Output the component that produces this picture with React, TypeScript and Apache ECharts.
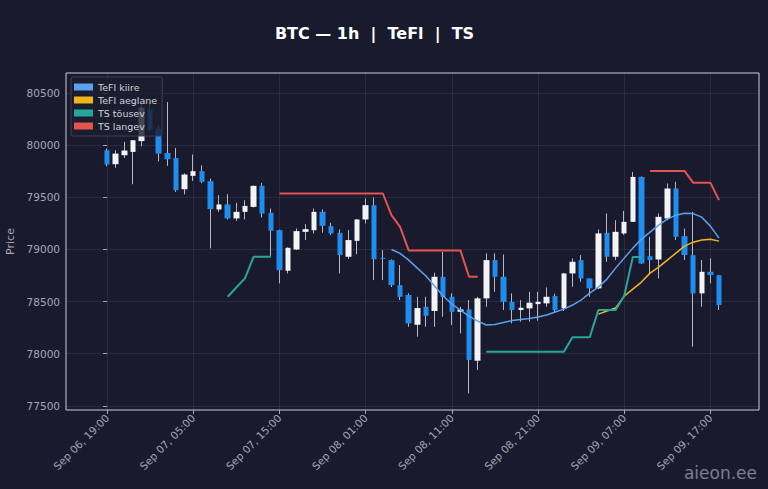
import * as echarts from "echarts";
import { useEffect, useRef } from "react";

// hourly candles, Sep 06 19:00 .. Sep 09 18:00
const opens = [
  79952, 79818, 79904, 79936, 80040, 80345, 80160, 79926, 79878, 79578,
  79706, 79751, 79655, 79384, 79432, 79298, 79361, 79409, 79610, 79351,
  79185, 78796, 79000, 79169, 79185, 79361, 79224, 79160, 78930, 79083,
  79288, 79425, 78920, 78898, 78658, 78563, 78278, 78450, 78410, 78738,
  78546, 78402, 78425, 77933, 78531, 78898, 78738, 78498, 78419, 78435,
  78476, 78483, 78553, 78435, 78770, 78898, 78722, 78627, 79160, 78930,
  79154, 79265, 79696, 78936, 78904, 79297, 79585, 79128, 78946, 78579,
  78786, 78754,
];
const closes = [
  79815, 79920, 79949, 80048, 80360, 80150, 79920, 79866, 79569, 79719,
  79751, 79648, 79387, 79432, 79298, 79361, 79418, 79610, 79345, 79179,
  78802, 79016, 79176, 79195, 79361, 79227, 79154, 78946, 79090, 79288,
  79425, 78907, 78910, 78658, 78546, 78291, 78438, 78364, 78738, 78546,
  78402, 78425, 77940, 78531, 78898, 78738, 78498, 78419, 78441, 78489,
  78498, 78546, 78419, 78770, 78882, 78722, 78627, 79154, 78930, 79169,
  79265, 79696, 78866, 78898, 79313, 79585, 79121, 78946, 78579, 78786,
  78754, 78467,
];
const lows = [
  79799, 79783, 79878, 79626, 79990, 80130, 79846, 79802, 79553, 79528,
  79658, 79636, 79010, 79361, 79288, 79275, 79288, 79403, 79307, 78930,
  78675, 78770, 78995, 79090, 79154, 79160, 79140, 78770, 78910, 78955,
  79250, 78706, 78706, 78640, 78515, 78259, 78163, 78259, 78259, 78355,
  78275, 78195, 77620, 77844, 78450, 78594, 78419, 78291, 78307, 78307,
  78316, 78450, 78400, 78410, 78642, 78690, 78546, 78620, 78882, 78898,
  79140, 79265, 78860, 78770, 78722, 79280, 79090, 78900, 78067, 78450,
  78675, 78419,
];
const highs = [
  79968, 79952, 80032, 80050, 80390, 80400, 80190, 80415, 79974, 79730,
  79911, 79808, 79681, 79521, 79530, 79447, 79473, 79615, 79639, 79393,
  79190, 79020, 79201, 79243, 79393, 79384, 79256, 79192, 79185, 79290,
  79489, 79499, 78994, 78905, 78850, 78579, 78546, 78546, 78777, 78978,
  78579, 78450, 78515, 78546, 78962, 78962, 78952, 78579, 78515, 78594,
  78594, 78636, 78575, 78775, 78914, 78946, 78722, 79192, 79345, 79281,
  79370, 79744, 79700, 79121, 79345, 79633, 79649, 79200, 79361, 78898,
  78914, 78754,
];

// indicator lines (null = not drawn)
const _ = null;
const tefiFast = [
  _, _, _, _, _, _, _, _, _, _, _, _, _, _, _, _, _, _, _, _,
  _, _, _, _, _, _, _, _, _, _, _, _, _, 79000, 78962, 78898, 78821, 78745, 78649, 78553,
  78477, 78419, 78361, 78313, 78275, 78280, 78299, 78318, 78328, 78337, 78352, 78371, 78400, 78428,
  78467, 78515, 78582, 78639, 78716, 78821, 78917, 79013, 79100, 79167, 79233, 79291, 79329, 79348,
  79344, 79310, 79224, 79109,
];
const tefiSlow = [
  _, _, _, _, _, _, _, _, _, _, _, _, _, _, _, _, _, _, _, _,
  _, _, _, _, _, _, _, _, _, _, _, _, _, _, _, _, _, _, _, _,
  _, _, _, _, _, _, _, _, _, _, _, _, _, _, _, _, _, 78380, 78409, 78438,
  78553, 78620, 78687, 78773, 78831, 78898, 78965, 79032, 79070, 79090, 79099, 79080,
];
const tsUp = [
  _, _, _, _, _, _, _, _, _, _, _, _, _, _, 78546, 78635, 78723, 78930, 78930, 78930,
  _, _, _, _, _, _, _, _, _, _, _, _, _, _, _, _, _, _, _, _,
  _, _, _, _, 78019, 78019, 78019, 78019, 78019, 78019, 78019, 78019, 78019, 78019, 78157, 78157, 78157, 78419, 78419, 78419,
  78553, 78927, 78927, _, _, _, _, _, _, _, _, _,
];
const tsDown = [
  _, _, _, _, _, _, _, _, _, _, _, _, _, _, _, _, _, _, _, _,
  79537, 79537, 79537, 79537, 79537, 79537, 79537, 79537, 79537, 79537, 79537, 79537, 79537, 79329, 79217, 78991, 78991, 78991, 78991, 78991,
  78991, 78991, 78738, 78738, _, _, _, _, _, _, _, _, _, _, _, _, _, _, _, _,
  _, _, _, 79754, 79754, 79754, 79754, 79754, 79641, 79641, 79641, 79473,
];

const xTickIdx = [0, 10, 20, 30, 40, 50, 60, 70];
const xTickLabels = [
  "Sep 06, 19:00",
  "Sep 07, 05:00",
  "Sep 07, 15:00",
  "Sep 08, 01:00",
  "Sep 08, 11:00",
  "Sep 08, 21:00",
  "Sep 09, 07:00",
  "Sep 09, 17:00",
];
const yTicks = [77500, 78000, 78500, 79000, 79500, 80000, 80500];

const BG = "#1a1a2e";
const FONT = "DejaVu Sans";
const UP = "#f4f4f6";
const DOWN = "#1f8ded";
const WICK = "#b4b8c6";
const LABEL = "#a3a7b7";

const toPairs = (arr: (number | null)[]) =>
  arr.map((v, i) => [i, v == null ? "-" : v]);

const BtcChart = () => {
  const chartRef = useRef<HTMLDivElement>(null);

  useEffect(() => {
    if (!chartRef.current) {
      return;
    }
    const chart = echarts.init(chartRef.current, null, { renderer: "svg" });

    const wickData = opens.map((_o, i) => [i, lows[i], highs[i], lows[i], highs[i]]);
    const bodyData = opens.map((o, i) => [
      i,
      o,
      closes[i],
      Math.min(o, closes[i]),
      Math.max(o, closes[i]),
    ]);

    const lineSeries = (name: string, arr: (number | null)[], color: string, width: number) => ({
      name,
      type: "line",
      data: toPairs(arr),
      showSymbol: false,
      symbol: "none",
      connectNulls: false,
      color,
      lineStyle: { color, width },
      z: 5,
    });

    chart.setOption({
      animation: false,
      backgroundColor: BG,
      textStyle: { fontFamily: FONT },
      grid: {
        left: 66,
        right: 9,
        top: 73,
        bottom: 79,
        containLabel: false,
        outerBoundsMode: "none",
        show: true,
        borderColor: "#c9ccd6",
        borderWidth: 1,
      },
      graphic: [
        {
          type: "text",
          x: 374.5,
          y: 33,
          style: {
            text: "BTC — 1h  |  TeFl  |  TS",
            fill: "#ffffff",
            font: `bold 16px "${FONT}"`,
            align: "center",
            verticalAlign: "middle",
          },
        },
        {
          type: "text",
          right: 11,
          top: 464,
          z: 100,
          style: {
            text: "aieon.ee",
            fill: "rgba(190,195,210,0.6)",
            font: `17px "${FONT}"`,
          },
        },
      ],
      legend: {
        data: ["TeFl kiire", "TeFl aeglane", "TS tõusev", "TS langev"],
        orient: "vertical",
        left: 71,
        top: 77,
        icon: "rect",
        itemWidth: 19,
        itemHeight: 7,
        itemGap: 3,
        padding: [5, 5, 5, 3],
        backgroundColor: "rgba(28,30,48,0.82)",
        borderColor: "#3c4058",
        borderWidth: 1,
        borderRadius: 2,
        textStyle: { color: "#d0d2dc", fontSize: 9.5, fontFamily: FONT },
        z: 20,
      },
      xAxis: {
        type: "value",
        min: -4.76,
        max: 75.64,
        axisLine: { show: false },
        axisTick: {
          customValues: xTickIdx,
          length: 4,
          lineStyle: { color: LABEL },
        },
        axisLabel: {
          customValues: xTickIdx,
          formatter: (v: number) => xTickLabels[xTickIdx.indexOf(v)] ?? "",
          rotate: 45,
          margin: 6,
          color: LABEL,
          fontSize: 10.5,
          fontFamily: FONT,
        },
        splitLine: {
          show: true,
          lineStyle: { color: "rgba(255,255,255,0.07)", width: 1 },
        },
      },
      yAxis: {
        type: "value",
        min: 77460,
        max: 80693,
        name: "Price",
        nameLocation: "middle",
        nameRotate: 90,
        nameGap: 47,
        nameTextStyle: { color: LABEL, fontSize: 11, fontFamily: FONT },
        axisLine: { show: false },
        axisTick: {
          customValues: yTicks,
          length: 4,
          lineStyle: { color: LABEL },
        },
        axisLabel: {
          customValues: yTicks,
          formatter: (v: number) => String(v),
          margin: 6,
          color: LABEL,
          fontSize: 10.5,
          fontFamily: FONT,
        },
        splitLine: {
          show: true,
          lineStyle: { color: "rgba(255,255,255,0.07)", width: 1 },
        },
      },
      series: [
        {
          name: "wicks",
          type: "candlestick",
          data: wickData,
          encode: { x: 0, y: [1, 2, 3, 4] },
          barWidth: 0.5,
          itemStyle: {
            color: WICK,
            color0: WICK,
            borderColor: WICK,
            borderColor0: WICK,
            borderWidth: 1,
          },
          z: 2,
        },
        {
          name: "candles",
          type: "candlestick",
          data: bodyData,
          encode: { x: 0, y: [1, 2, 3, 4] },
          barWidth: 6,
          itemStyle: {
            color: UP,
            color0: DOWN,
            borderColor: UP,
            borderColor0: DOWN,
            borderWidth: 0,
          },
          z: 3,
        },
        lineSeries("TeFl kiire", tefiFast, "#5aa2f0", 1.5),
        lineSeries("TeFl aeglane", tefiSlow, "#f0b41c", 1.5),
        lineSeries("TS tõusev", tsUp, "#26a69a", 2),
        lineSeries("TS langev", tsDown, "#e5534f", 2),
      ],
    });

    return () => {
      chart.dispose();
    };
  }, []);

  return (
    <div
      ref={chartRef}
      style={{ position: "fixed", left: 0, top: 0, width: "768px", height: "489px" }}
    ></div>
  );
};

export default function App() {
  return <BtcChart />;
}
